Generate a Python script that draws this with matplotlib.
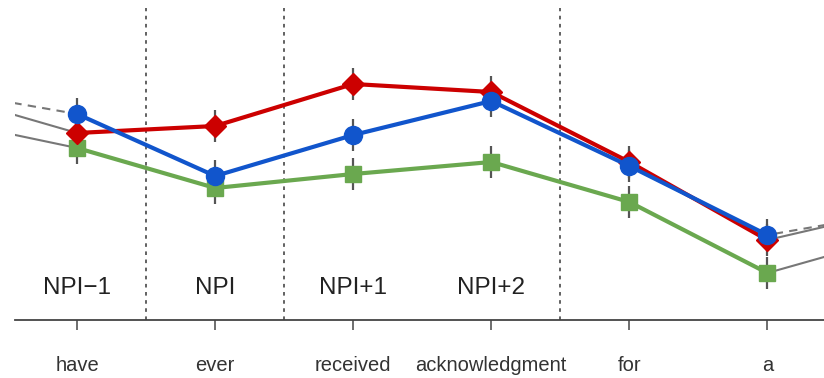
import matplotlib
matplotlib.use("Agg")
import matplotlib.pyplot as plt
import numpy as np

plt.rcParams['font.family'] = ['Liberation Sans', 'DejaVu Sans']

words = ["have", "ever", "received", "acknowledgment", "for", "a"]
regions = ["NPI\u22121", "NPI", "NPI+1", "NPI+2"]

# values (arbitrary units, higher = up)
red_vals = [187, 194, 236, 228, 158, 80]
blue_vals = [206, 144, 185, 219, 154, 85]
green_vals = [172, 132, 146, 158, 118, 47]
err = [16, 16, 16, 16, 16, 16]

# neighbouring (off-screen) words for the grey continuation lines
red_prev, red_next = 227, 112
blue_prev, blue_next = 230, 109
green_prev, green_next = 201, 86

boundaries = [0.5, 1.5, 3.5]

fig = plt.figure(figsize=(8.24, 3.78), dpi=100)
ax = fig.add_axes([15/824, (378-320)/378, 1 - 15/824, (320-8)/378])

x = np.arange(len(words))
xe = np.arange(-1, len(words) + 1)

grey = "#777777"
ax.plot(xe, [blue_prev] + blue_vals + [blue_next], color=grey, lw=1.5, ls=(0, (4, 3)), zorder=1)
ax.plot(xe, [red_prev] + red_vals + [red_next], color=grey, lw=1.5, zorder=1)
ax.plot(xe, [green_prev] + green_vals + [green_next], color=grey, lw=1.5, zorder=1)

for vals in (red_vals, blue_vals, green_vals):
    ax.errorbar(x, vals, yerr=err, fmt='none', ecolor="#555555", elinewidth=1.6, capsize=0, zorder=2)

ax.plot(x, green_vals, color="#6AA84F", lw=3, marker='s', ms=12, zorder=3)
ax.plot(x, red_vals, color="#CC0000", lw=3, marker='D', ms=11, zorder=4)
ax.plot(x, blue_vals, color="#1155CC", lw=3, marker='o', ms=13, zorder=5)

for b in boundaries:
    ax.axvline(b, color="#555555", lw=1.3, ls=(0, (2, 2.5)), zorder=0)

for i, r in enumerate(regions):
    ax.text(i, 32, r, ha='center', va='center', fontsize=17.5, color="#222222")

ax.set_xlim(-0.45, 5.41)
ax.set_ylim(0, 312)
ax.set_xticks(x)
ax.set_xticklabels(words, fontsize=14.5, color="#333333")
ax.tick_params(axis='x', direction='out', length=7, width=1.2, color="#555555", pad=19)
ax.set_yticks([])
for s in ('top', 'right', 'left'):
    ax.spines[s].set_visible(False)
ax.spines['bottom'].set_color("#444444")
ax.spines['bottom'].set_linewidth(1.3)

fig.savefig("out.png", dpi=100)
